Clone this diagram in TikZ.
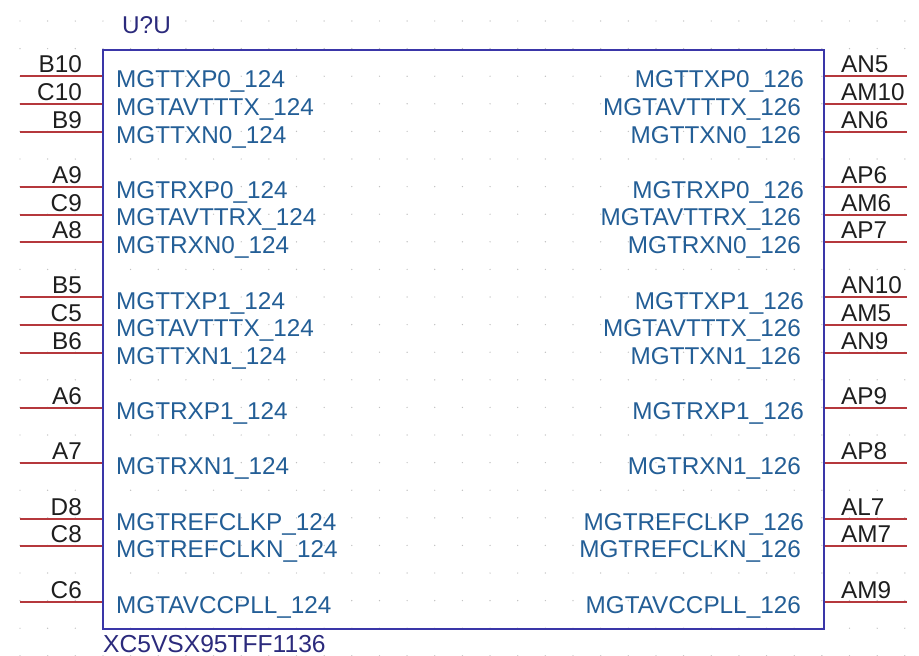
\documentclass[tikz,border=0pt]{standalone}
\usepackage{fontspec}
\setmainfont{Liberation Sans}
\definecolor{boxc}{HTML}{3A36A8}
\definecolor{pinc}{HTML}{B5383C}
\definecolor{sigc}{HTML}{235E96}
\definecolor{numc}{HTML}{1E1E1E}
\definecolor{refc}{HTML}{2B2A7C}
\definecolor{dotc}{HTML}{C0C0C0}
\tikzset{
  pinwire/.style={draw=pinc,line width=1.3pt},
  part/.style={draw=boxc,line width=1.4pt},
  txt/.style={inner sep=0pt,font=\fontsize{24.3}{25}\selectfont},
  sigL/.style={txt,text=sigc,anchor=base west},
  sigR/.style={txt,text=sigc,anchor=base east},
  numL/.style={txt,text=numc,anchor=base east},
  numR/.style={txt,text=numc,anchor=base west},
  refd/.style={txt,text=refc,anchor=base west},
}
\begin{document}
\begin{tikzpicture}[x=1pt,y=-1pt]
\useasboundingbox (0,0) rectangle (919,656);
\fill[white] (0,0) rectangle (919,656);
\foreach \i in {0,...,32}{
  \foreach \j in {0,...,23}{
    \fill[dotc] (20+27.65*\i,21+27.6*\j) circle (0.7);
  }
}
\node[part,minimum width=0pt,inner sep=0pt] (box) at (463.5,339.5) {\tikz[x=1pt,y=1pt]\path (0,0) rectangle (721,579);};
\node[refd] (ref) at (122,33) {U?U};
\node[refd,font=\fontsize{24.6}{25}\selectfont] (part) at (103,652) {XC5VSX95TFF1136};
\newcommand{\pinL}[5]{%
  \coordinate (L#1) at (box.west |- 0,#3);
  \coordinate (LE#1) at (20,#3);
  \draw[pinwire] (LE#1) -- (L#1);
  \node[numL] (LN#1) at (82,#3-4) {#2};
  \node[sigL] (LS#1) at (116,#3+#5) {#4};
}
\newcommand{\pinR}[6]{%
  \coordinate (R#1) at (box.east |- 0,#3);
  \coordinate (RE#1) at (907,#3);
  \draw[pinwire] (R#1) -- (RE#1);
  \node[numR] (RN#1) at (841,#3-4) {#2};
  \node[sigR] (RS#1) at (#6,#3+#5) {#4};
}
\pinL{a}{B10}{76}{MGTTXP0\_124}{11}
\pinL{b}{C10}{104}{MGTAVTTTX\_124}{11.5}
\pinL{c}{B9}{132}{MGTTXN0\_124}{11}
\pinL{d}{A9}{187}{MGTRXP0\_124}{11}
\pinL{e}{C9}{215}{MGTAVTTRX\_124}{10.5}
\pinL{f}{A8}{242}{MGTRXN0\_124}{11}
\pinL{g}{B5}{297}{MGTTXP1\_124}{12}
\pinL{h}{C5}{325}{MGTAVTTTX\_124}{11}
\pinL{i}{B6}{353}{MGTTXN1\_124}{11}
\pinL{j}{A6}{408}{MGTRXP1\_124}{11}
\pinL{k}{A7}{463}{MGTRXN1\_124}{11}
\pinL{l}{D8}{519}{MGTREFCLKP\_124}{11}
\pinL{m}{C8}{546}{MGTREFCLKN\_124}{11}
\pinL{n}{C6}{602}{MGTAVCCPLL\_124}{11}
\pinR{a}{AN5}{76}{MGTTXP0\_126}{11}{804}
\pinR{b}{AM10}{104}{MGTAVTTTX\_126}{11.5}{801}
\pinR{c}{AN6}{132}{MGTTXN0\_126}{11}{801}
\pinR{d}{AP6}{187}{MGTRXP0\_126}{11}{804}
\pinR{e}{AM6}{215}{MGTAVTTRX\_126}{10.5}{801}
\pinR{f}{AP7}{242}{MGTRXN0\_126}{11}{801}
\pinR{g}{AN10}{297}{MGTTXP1\_126}{12}{804}
\pinR{h}{AM5}{325}{MGTAVTTTX\_126}{11}{801}
\pinR{i}{AN9}{353}{MGTTXN1\_126}{11}{801}
\pinR{j}{AP9}{408}{MGTRXP1\_126}{11}{804}
\pinR{k}{AP8}{463}{MGTRXN1\_126}{11}{801}
\pinR{l}{AL7}{519}{MGTREFCLKP\_126}{11}{804}
\pinR{m}{AM7}{546}{MGTREFCLKN\_126}{11}{801}
\pinR{n}{AM9}{602}{MGTAVCCPLL\_126}{11}{801}
\end{tikzpicture}
\end{document}
